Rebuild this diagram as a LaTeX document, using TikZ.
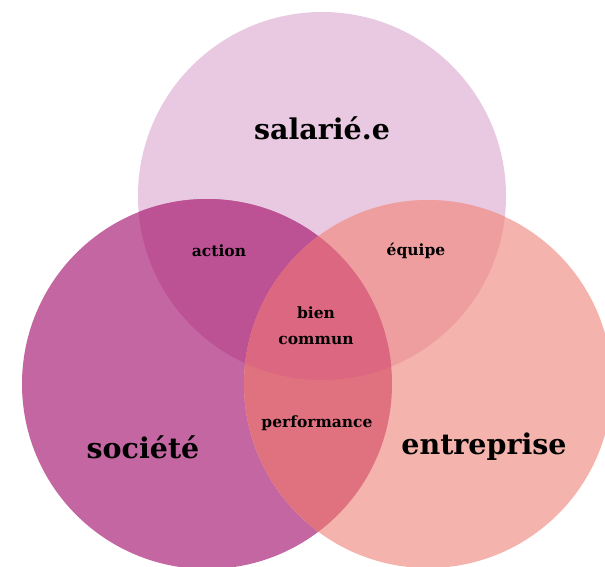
\documentclass[tikz,border=0pt]{standalone}
\usepackage{fontspec}
\setmainfont{DejaVu Serif}
\definecolor{topc}{HTML}{E9C8E1}
\definecolor{leftc}{HTML}{C466A1}
\definecolor{rightc}{HTML}{F4B4AD}
\definecolor{tlc}{HTML}{BC5193}
\definecolor{trc}{HTML}{EE9E9F}
\definecolor{lrc}{HTML}{E0727F}
\definecolor{allc}{HTML}{DC6780}

\begin{document}
\begin{tikzpicture}[x=1pt,y=-1pt,
  big/.style={font=\fontsize{28.5}{32}\selectfont\bfseries},
  small/.style={font=\fontsize{15.5}{26}\selectfont\bfseries, align=center}]
\useasboundingbox (0,0) rectangle (605,567);
\clip (0,0) rectangle (605,567);
% circles
\coordinate (ctop) at (322,196);
\coordinate (cleft) at (207,384);
\coordinate (cright) at (428,384);
\fill[topc] (ctop) circle (184);
\fill[leftc] (cleft) circle (185);
\fill[rightc] (cright) circle (184);
% overlaps
\begin{scope}
  \clip (ctop) circle (184);
  \fill[tlc] (cleft) circle (185);
  \fill[trc] (cright) circle (184);
\end{scope}
\begin{scope}
  \clip (cleft) circle (185);
  \fill[lrc] (cright) circle (184);
  \clip (ctop) circle (184);
  \fill[allc] (cright) circle (184);
\end{scope}
% labels
\node[big] (salarie) at (322,128) {salarié.e};
\node[big] (societe) at (143,447) {société};
\node[big] (entreprise) at (484,447) {entreprise};
\node[small] (action) at (219,251) {action};
\node[small] (equipe) at (416,251) {équipe};
\node[small] (bien) at (316,326) {bien\\commun};
\node[small] (perf) at (317,423) {performance};
\end{tikzpicture}
\end{document}
